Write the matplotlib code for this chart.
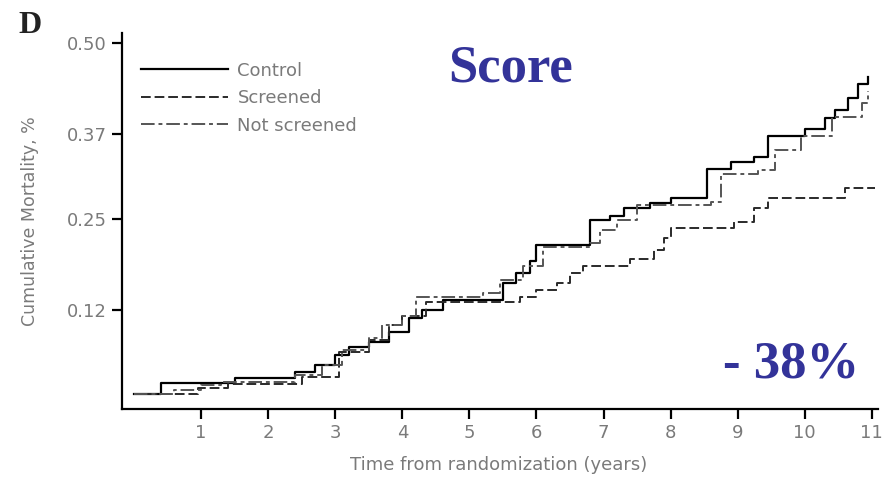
import matplotlib
matplotlib.use("Agg")
import matplotlib.pyplot as plt

# cumulative mortality curves (step functions), time in years
control_t = [0, 0.4, 1.5, 2.4, 2.7, 3.0, 3.2, 3.5, 3.8, 4.1, 4.3, 4.6, 5.5, 5.7, 5.9,
             6.0, 6.8, 7.1, 7.3, 7.7, 8.0, 8.55, 8.9, 9.25, 9.45, 10.0, 10.3, 10.45,
             10.65, 10.8, 10.95]
control_v = [0.0, 0.016, 0.023, 0.031, 0.041, 0.056, 0.067, 0.074, 0.088, 0.108, 0.12,
             0.134, 0.158, 0.172, 0.19, 0.212, 0.248, 0.253, 0.265, 0.272, 0.279, 0.321,
             0.33, 0.337, 0.368, 0.378, 0.393, 0.404, 0.422, 0.442, 0.452]

screened_t = [0, 0.95, 1.4, 2.5, 3.05, 3.5, 3.8, 4.0, 4.35, 5.75, 6.0, 6.3, 6.5, 6.7,
              7.4, 7.75, 7.9, 8.0, 8.95, 9.25, 9.45, 10.6, 11.05]
screened_v = [0.0, 0.009, 0.015, 0.024, 0.06, 0.077, 0.098, 0.112, 0.131, 0.138, 0.148,
              0.158, 0.172, 0.182, 0.193, 0.205, 0.222, 0.236, 0.245, 0.265, 0.279,
              0.293, 0.293]

notscr_t = [0, 0.6, 1.0, 1.3, 2.4, 2.8, 3.1, 3.5, 3.7, 4.0, 4.2, 5.2, 5.45, 5.8, 6.1,
            6.8, 6.95, 7.2, 7.5, 8.6, 8.75, 9.3, 9.55, 9.95, 10.4, 10.85, 10.95]
notscr_v = [0.0, 0.006, 0.013, 0.017, 0.027, 0.041, 0.063, 0.08, 0.098, 0.112, 0.139,
            0.144, 0.162, 0.183, 0.209, 0.215, 0.233, 0.248, 0.269, 0.273, 0.314, 0.319,
            0.347, 0.368, 0.394, 0.415, 0.432]

xticks = list(range(1, 12))
yticks = [0.12, 0.25, 0.37, 0.50]
ytick_labels = ["0.12", "0.25", "0.37", "0.50"]

gray = "#7a7a7a"
blue = "#333399"

fig = plt.figure(figsize=(8.82, 4.78), dpi=100)
ax = fig.add_axes([0.1383, 0.1444, 0.857, 0.7866])

ax.step(control_t, control_v, where="post", color="black", lw=1.6, label="Control")
ax.step(screened_t, screened_v, where="post", color="#2a2a2a", lw=1.4,
        dashes=(5, 2), label="Screened")
ax.step(notscr_t, notscr_v, where="post", color="#555555", lw=1.4,
        dashes=(7, 2, 2, 2), label="Not screened")

ax.set_xlim(-0.18, 11.09)
ax.set_ylim(-0.021, 0.514)
ax.set_xticks(xticks)
ax.set_yticks(yticks)
ax.set_yticklabels(ytick_labels)

for s in ["top", "right"]:
    ax.spines[s].set_visible(False)
for s in ["left", "bottom"]:
    ax.spines[s].set_linewidth(1.6)
ax.tick_params(length=7, width=1.6, pad=4, labelsize=13, labelcolor=gray)
for lab in ax.get_xticklabels() + ax.get_yticklabels():
    lab.set_family("DejaVu Sans")

ax.set_xlabel("Time from randomization (years)", fontsize=13, color=gray)
ax.xaxis.set_label_coords(0.4987, -0.125)
ax.set_ylabel("Cumulative Mortality, %", fontsize=12.5, color=gray)
ax.yaxis.set_label_coords(-0.11, 0.5)

leg = ax.legend(loc="upper left", bbox_to_anchor=(0.025, 0.924), frameon=False,
                fontsize=13, handlelength=4.8, handletextpad=0.55,
                labelspacing=0.53, borderpad=0, borderaxespad=0)
for t in leg.get_texts():
    t.set_color(gray)

fig.text(18 / 882, 1 - 33 / 478, "D", family="Liberation Serif", weight="bold",
         fontsize=23, color="#222222", va="baseline", ha="left")
fig.text(448 / 882, 1 - 82 / 478, "Score", family="Liberation Serif", weight="bold",
         fontsize=38, color=blue, va="baseline", ha="left")
fig.text(723 / 882, 1 - 377 / 478, "- 38%", family="Liberation Serif", weight="bold",
         fontsize=38, color=blue, va="baseline", ha="left")

fig.savefig("out.png", dpi=100)
